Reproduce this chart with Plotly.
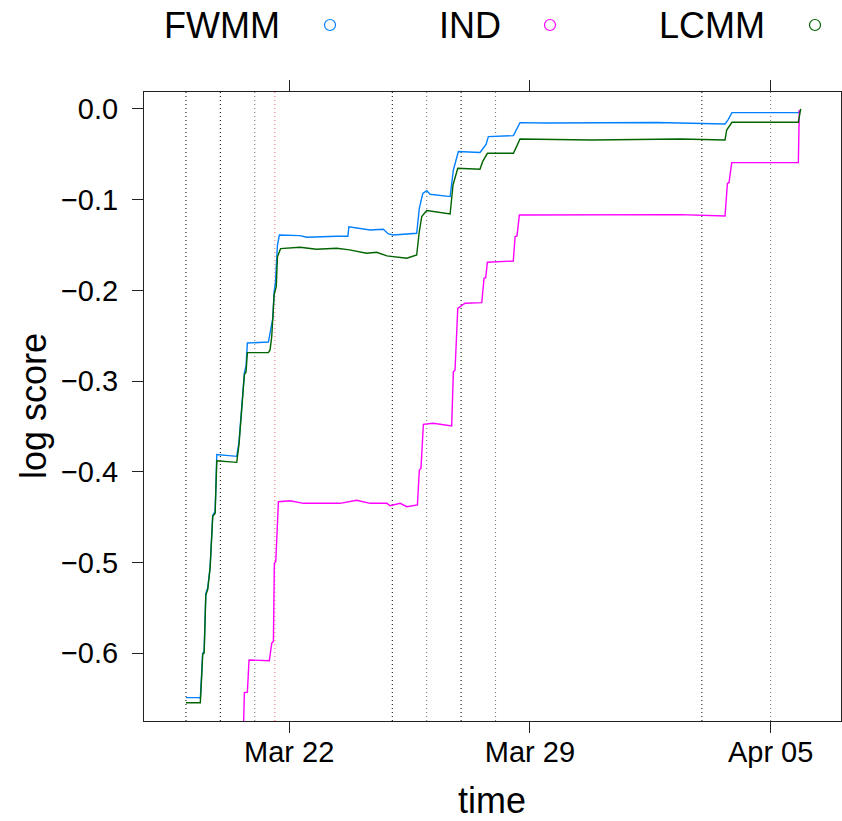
import plotly.graph_objects as go

# ---------------- data ----------------
fwmm_t = ["2020-03-19 00:00", "2020-03-19 09:20", "2020-03-19 10:00", "2020-03-19 11:00",
          "2020-03-19 11:40", "2020-03-19 12:40", "2020-03-19 13:50", "2020-03-19 15:10",
          "2020-03-19 16:50", "2020-03-19 18:40", "2020-03-19 20:20", "2020-03-19 21:30",
          "2020-03-20 11:25", "2020-03-20 13:00", "2020-03-20 14:25", "2020-03-20 16:45",
          "2020-03-20 17:55", "2020-03-20 18:50", "2020-03-21 09:30", "2020-03-21 10:40",
          "2020-03-21 12:35", "2020-03-21 13:30", "2020-03-21 14:25", "2020-03-21 15:50",
          "2020-03-21 17:10", "2020-03-22 07:30", "2020-03-22 12:20", "2020-03-23 09:10",
          "2020-03-23 17:00", "2020-03-23 17:40", "2020-03-24 01:30", "2020-03-24 08:30",
          "2020-03-24 17:45", "2020-03-24 21:15", "2020-03-25 00:40", "2020-03-25 14:40",
          "2020-03-25 17:00", "2020-03-25 18:50", "2020-03-25 21:15", "2020-03-26 00:00",
          "2020-03-26 02:20", "2020-03-26 16:20", "2020-03-26 18:35", "2020-03-26 22:05",
          "2020-03-27 13:10", "2020-03-27 17:25", "2020-03-27 19:00", "2020-03-28 12:30",
          "2020-03-28 14:20", "2020-03-28 17:05", "2020-03-29 11:50", "2020-03-31 10:15",
          "2020-04-01 16:30", "2020-04-03 16:10", "2020-04-03 18:30", "2020-04-03 21:00",
          "2020-04-05 19:20", "2020-04-05 21:00"]
fwmm_v = [-0.649, -0.649, -0.650, -0.622,
          -0.600, -0.598, -0.534, -0.528,
          -0.505, -0.448, -0.444, -0.381,
          -0.383, -0.367, -0.335, -0.291,
          -0.283, -0.258, -0.257, -0.246,
          -0.231, -0.202, -0.191, -0.150,
          -0.139, -0.1396, -0.1415, -0.1404,
          -0.1404, -0.1298, -0.1320, -0.1334,
          -0.1327, -0.1378, -0.1389, -0.1378,
          -0.1370, -0.1095, -0.0930, -0.0900,
          -0.0940, -0.0966, -0.0673, -0.0470,
          -0.0480, -0.0390, -0.0305, -0.0294,
          -0.0231, -0.0151, -0.0155, -0.0153,
          -0.0150, -0.0165, -0.0114, -0.0040,
          -0.0040, -0.0010]

lcmm_t = ["2020-03-19 00:00", "2020-03-19 10:00", "2020-03-19 11:00", "2020-03-19 11:40",
          "2020-03-19 12:40", "2020-03-19 13:50", "2020-03-19 15:10", "2020-03-19 16:50",
          "2020-03-19 18:40", "2020-03-19 20:20", "2020-03-19 21:30", "2020-03-20 11:25",
          "2020-03-20 13:00", "2020-03-20 14:25", "2020-03-20 16:45", "2020-03-20 17:55",
          "2020-03-20 18:50", "2020-03-21 09:30", "2020-03-21 10:40", "2020-03-21 11:50",
          "2020-03-21 13:30", "2020-03-21 15:00", "2020-03-21 15:50", "2020-03-21 18:00",
          "2020-03-22 07:36", "2020-03-22 19:00", "2020-03-23 09:10", "2020-03-23 18:10",
          "2020-03-24 06:00", "2020-03-24 13:00", "2020-03-24 20:10", "2020-03-25 10:05",
          "2020-03-25 17:00", "2020-03-25 18:40", "2020-03-25 20:30", "2020-03-26 00:00",
          "2020-03-26 16:20", "2020-03-26 18:20", "2020-03-26 21:40", "2020-03-27 13:10",
          "2020-03-27 15:00", "2020-03-27 18:20", "2020-03-28 12:30", "2020-03-28 15:00",
          "2020-03-28 17:05", "2020-03-30 19:00", "2020-04-02 08:50", "2020-04-03 16:10",
          "2020-04-03 17:20", "2020-04-03 21:00", "2020-04-05 19:20", "2020-04-05 21:00"]
lcmm_v = [-0.6546, -0.6546, -0.624, -0.601,
          -0.600, -0.536, -0.530, -0.506,
          -0.449, -0.446, -0.388, -0.3896,
          -0.370, -0.338, -0.293, -0.290,
          -0.2687, -0.2687, -0.2657, -0.251,
          -0.205, -0.196, -0.163, -0.154,
          -0.1525, -0.1547, -0.1536, -0.1554,
          -0.1590, -0.1580, -0.1620, -0.1646,
          -0.1610, -0.1370, -0.1187, -0.1120,
          -0.1158, -0.0838, -0.0654, -0.0665,
          -0.0581, -0.0489, -0.0489, -0.0404,
          -0.0331, -0.0342, -0.0331, -0.0342,
          -0.0232, -0.0147, -0.0147, 0.0000]

ind_t = ["2020-03-20 15:30", "2020-03-20 16:45", "2020-03-20 18:50", "2020-03-20 20:00",
         "2020-03-21 10:10", "2020-03-21 11:50", "2020-03-21 13:00", "2020-03-21 13:40",
         "2020-03-21 14:40", "2020-03-21 16:30", "2020-03-22 00:40", "2020-03-22 09:55",
         "2020-03-23 11:30", "2020-03-23 23:10", "2020-03-24 08:30", "2020-03-24 20:10",
         "2020-03-24 22:25", "2020-03-25 05:25", "2020-03-25 10:05", "2020-03-25 17:30",
         "2020-03-25 18:50", "2020-03-25 20:00", "2020-03-25 21:40", "2020-03-26 04:35",
         "2020-03-26 17:25", "2020-03-26 18:35", "2020-03-26 19:45", "2020-03-26 21:40",
         "2020-03-27 02:45", "2020-03-27 14:25", "2020-03-27 16:00", "2020-03-27 17:10",
         "2020-03-27 18:20", "2020-03-28 12:25", "2020-03-28 13:40", "2020-03-28 15:00",
         "2020-03-28 16:40", "2020-03-31 10:15", "2020-04-02 08:50", "2020-04-03 16:10",
         "2020-04-03 17:50", "2020-04-03 19:00", "2020-04-03 20:50", "2020-04-05 19:20",
         "2020-04-05 20:00"]
ind_v = [-0.720, -0.6435, -0.643, -0.6075,
         -0.6083, -0.589, -0.587, -0.501,
         -0.499, -0.433, -0.432, -0.4348,
         -0.4348, -0.4315, -0.4348, -0.4348,
         -0.4375, -0.4348, -0.4385, -0.4366,
         -0.398, -0.396, -0.3477, -0.3466,
         -0.3495, -0.2896, -0.288, -0.2198,
         -0.2142, -0.2135, -0.1867, -0.186,
         -0.169, -0.1676, -0.1408, -0.140,
         -0.1169, -0.1170, -0.1165, -0.1180,
         -0.082, -0.081, -0.0592, -0.0592,
         -0.001]

series_names = ["FWMM", "IND", "LCMM"]
series_colors = ["#0080ff", "#ff00ff", "#006400"]

vlines_dark = ["2020-03-19", "2020-03-20", "2020-03-25", "2020-03-27", "2020-04-03"]
vlines_grey = ["2020-03-21", "2020-03-26", "2020-03-28", "2020-04-05"]
vlines_red = ["2020-03-21 14:00"]

x_tickvals = ["2020-03-22", "2020-03-29", "2020-04-05"]
x_ticktext = ["Mar 22", "Mar 29", "Apr 05"]
y_tickvals = [0.0, -0.1, -0.2, -0.3, -0.4, -0.5, -0.6]

# ---------------- figure ----------------
FONT = "Liberation Sans, Arial, Helvetica, sans-serif"
fig = go.Figure()

shapes = []
for xs, col in [(vlines_dark, "#1a1a1a"), (vlines_grey, "#7a7a7a"), (vlines_red, "#ff6a6a")]:
    for xv in xs:
        shapes.append(dict(type="line", xref="x", yref="paper", x0=xv, x1=xv, y0=0, y1=1,
                           line=dict(color=col, width=1.1, dash="1px,3px"), layer="below"))

for t, v, name, col in [(fwmm_t, fwmm_v, "FWMM", series_colors[0]),
                        (ind_t, ind_v, "IND", series_colors[1]),
                        (lcmm_t, lcmm_v, "LCMM", series_colors[2])]:
    fig.add_trace(go.Scatter(x=t, y=v, mode="lines", name=name, showlegend=False,
                             line=dict(color=col, width=1.4)))

# legend drawn as text followed by an open circle (lattice style)
W, H = 842, 821
ML, MR, MT, MB = 144, 1, 92, 100
pw, ph = W - ML - MR, H - MT - MB
def px_to_paper(x, y):
    return (x - ML) / pw, (H - MB - y) / ph

legend_text_x = [222, 470, 712]
legend_circ_x = [330, 550, 815]
legend_y = 25
annotations = []
for name, col, tx, cx in zip(series_names, series_colors, legend_text_x, legend_circ_x):
    ax, ay = px_to_paper(tx, legend_y)
    annotations.append(dict(text=name, x=ax, y=ay, xref="paper", yref="paper",
                            showarrow=False, xanchor="center", yanchor="middle",
                            font=dict(size=36, color="black", family=FONT)))
    sx, sy = px_to_paper(cx, legend_y)
    shapes.append(dict(type="circle", xref="paper", yref="paper", xsizemode="pixel",
                       ysizemode="pixel", xanchor=sx, yanchor=sy, x0=-5.5, x1=5.5,
                       y0=-5.5, y1=5.5, line=dict(color=col, width=1.2)))

# axis titles
tx, ty = px_to_paper(492, 800)
annotations.append(dict(text="time", x=tx, y=ty, xref="paper", yref="paper", showarrow=False,
                        xanchor="center", yanchor="middle",
                        font=dict(size=36, color="black", family=FONT)))
tx, ty = px_to_paper(33, 406)
annotations.append(dict(text="log score", x=tx, y=ty, xref="paper", yref="paper",
                        showarrow=False, textangle=-90, xanchor="center", yanchor="middle",
                        font=dict(size=36, color="black", family=FONT)))

axis_common = dict(ticks="outside", ticklen=11, tickwidth=1, tickcolor="#222",
                   showline=True, linecolor="#222", linewidth=1, mirror="ticks",
                   showgrid=False, zeroline=False, automargin=False,
                   tickfont=dict(size=29, family=FONT, color="black"))

fig.update_layout(
    width=W, height=H, autosize=False,
    margin=dict(l=ML, r=MR, t=MT, b=MB, pad=0),
    paper_bgcolor="white", plot_bgcolor="white",
    font=dict(family=FONT, color="black"),
    shapes=shapes, annotations=annotations,
    xaxis=dict(type="date", range=["2020-03-17 18:42", "2020-04-07 01:06"],
               tickvals=x_tickvals, ticktext=x_ticktext,
               ticklabelstandoff=-6, **axis_common),
    yaxis=dict(range=[-0.6748, 0.0187], tickvals=y_tickvals, tickformat=".1f",
               ticklabelstandoff=8, **axis_common),
)

fig.write_html("out.html", config={"responsive": False, "displayModeBar": False},
               post_script="document.body.style.margin='0';document.body.style.overflow='hidden';")
